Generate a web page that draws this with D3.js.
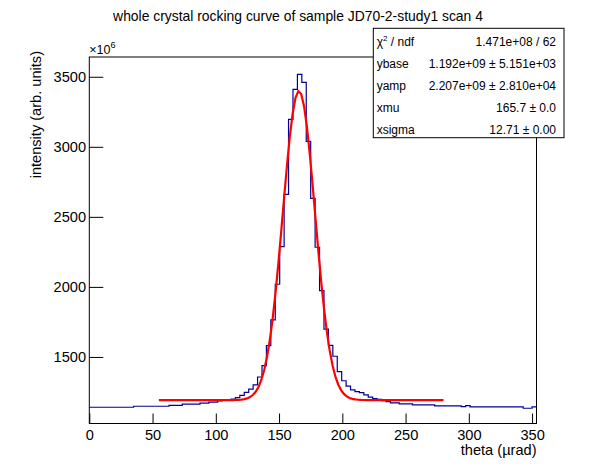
<!DOCTYPE html>
<html>
<head>
<meta charset="UTF-8">
<title>whole crystal rocking curve</title>
<script src="https://d3js.org/d3.v7.min.js"></script>
<style>
    body { margin: 0; background: #ffffff; }
    svg { display: block; font-family: 'Liberation Sans', Arial, Helvetica, sans-serif; }
    .tick text { font-size: 14.6px; fill: #000; }
    .tick line { stroke: #000; }
</style>
</head>
<body>
<svg id="chart" width="596" height="472"></svg>
<script>
    // --- data (intensity in units of 1e6) ---
    const binWidth = 3.5;
    const xRange = [0, 353.5];
    const yRange = [1025, 3641];
    const counts = [
        1141, 1141, 1141, 1141, 1141, 1141, 1141, 1141, 1141, 1141,
        1148, 1148, 1148, 1148, 1148, 1148, 1148, 1148,
        1155, 1155, 1155,
        1163, 1163, 1163, 1163,
        1170, 1170, 1177, 1177, 1186,
        1190, 1194, 1200, 1210, 1226, 1247, 1270, 1300, 1357, 1438,
        1581, 1764, 2019, 2287, 2661, 3196, 3410, 3517, 3460, 3039,
        2632, 2283, 1973, 1698, 1583, 1505, 1395, 1330, 1292, 1265,
        1252, 1245, 1229, 1213, 1203, 1198, 1188, 1181, 1172, 1172,
        1165, 1165, 1165,
        1158, 1158, 1158, 1158, 1158,
        1151, 1151, 1151, 1151, 1151, 1151,
        1146, 1153,
        1143, 1143, 1143, 1143, 1143, 1143, 1143, 1143, 1143, 1143, 1143, 1143,
        1134, 1134, 1143
    ];

    // fit: ybase + yamp * exp(-(x-xmu)^2 / (2 xsigma^2))
    const fitPars = [1192, 2207, 165.7, 12.71];
    const fitRange = [55, 280];
    const fitNpx = 100;

    const xTicks = [0, 50, 100, 150, 200, 250, 300, 350];
    const yTicks = [1500, 2000, 2500, 3000, 3500];
    const xMinor = d3.range(0, 351, 10);
    const yMinor = d3.range(1100, 3601, 100);

    const statNames = ["χ2 / ndf", "ybase", "yamp", "xmu", "xsigma"];
    const statValues = ["1.471e+08 / 62", "1.192e+09 ± 5.151e+03", "2.207e+09 ± 2.810e+04", "165.7 ± 0.0", "12.71 ± 0.00"];

    const titleText = "whole crystal rocking curve of sample JD70-2-study1 scan 4";
    const xTitle = "theta (µrad)";
    const yTitle = "intensity (arb. units)";

    // --- layout ---
    const frame = {left: 89.3, right: 536.5, top: 57, bottom: 423.5};
    const svg = d3.select("#chart");
    svg.append("rect").attr("width", 596).attr("height", 472).attr("fill", "#fff");

    const x = d3.scaleLinear().domain(xRange).range([frame.left, frame.right]);
    const y = d3.scaleLinear().domain(yRange).range([frame.bottom, frame.top]);

    // histogram outline
    const pts = counts.map((c, i) => [i * binWidth, c]);
    pts.push([xRange[1], counts[counts.length - 1]]);
    const histLine = d3.line().x(d => x(d[0])).y(d => y(d[1])).curve(d3.curveStepAfter);
    svg.append("path").datum(pts)
        .attr("fill", "none").attr("stroke", "#000099").attr("stroke-width", 1.2)
        .attr("d", histLine);

    // fit curve
    const fitFn = t => fitPars[0] + fitPars[1] * Math.exp(-Math.pow(t - fitPars[2], 2) / (2 * fitPars[3] * fitPars[3]));
    const fitPts = d3.range(fitNpx + 1).map(i => {
        const t = fitRange[0] + (fitRange[1] - fitRange[0]) * i / fitNpx;
        return [t, fitFn(t)];
    });
    svg.append("path").datum(fitPts)
        .attr("fill", "none").attr("stroke", "#ff0000").attr("stroke-width", 2.2)
        .attr("d", d3.line().x(d => x(d[0])).y(d => y(d[1])));

    // axes
    const gx = svg.append("g").attr("transform", `translate(0,${frame.bottom})`);
    gx.call(d3.axisBottom(x).tickValues(xMinor).tickSize(-5).tickSizeOuter(0).tickFormat(""));
    gx.call(d3.axisBottom(x).tickValues(xTicks).tickSize(-10).tickSizeOuter(0).tickPadding(6).tickFormat(d3.format("d")));
    const gy = svg.append("g").attr("transform", `translate(${frame.left},0)`);
    gy.call(d3.axisLeft(y).tickValues(yMinor).tickSize(-7).tickSizeOuter(0).tickFormat(""));
    gy.call(d3.axisLeft(y).tickValues(yTicks).tickSize(-14).tickSizeOuter(0).tickPadding(3.3).tickFormat(d3.format("d")));
    svg.selectAll(".domain").remove();

    // frame
    svg.append("rect")
        .attr("x", frame.left).attr("y", frame.top)
        .attr("width", frame.right - frame.left).attr("height", frame.bottom - frame.top)
        .attr("fill", "none").attr("stroke", "#000").attr("stroke-width", 1);

    // exponent label
    const expo = svg.append("text").attr("x", frame.left).attr("y", 53.5).attr("font-size", 12.5).text("×10");
    expo.append("tspan").attr("font-size", 9).attr("dy", -6).text("6");

    // titles
    svg.append("text").attr("x", 298).attr("y", 21).attr("text-anchor", "middle")
        .attr("font-size", 13.9).text(titleText);
    svg.append("text").attr("x", frame.right).attr("y", 454.5).attr("text-anchor", "end")
        .attr("font-size", 14.6).text(xTitle);
    svg.append("text").attr("transform", "translate(41,51) rotate(-90)").attr("text-anchor", "end")
        .attr("font-size", 14.6).text(yTitle);

    // stats box
    const box = {x: 373.3, y: 28.3, w: 190.7, h: 109.4};
    svg.append("rect").attr("x", box.x).attr("y", box.y).attr("width", box.w).attr("height", box.h)
        .attr("fill", "#fff").attr("stroke", "#000").attr("stroke-width", 1);
    const rowH = box.h / statNames.length;
    statNames.forEach((name, i) => {
        const by = box.y + (i + 0.5) * rowH + 7;
        const t = svg.append("text").attr("x", 376.7).attr("y", by).attr("font-size", 12);
        if (i === 0) {
            t.text("χ");
            t.append("tspan").attr("font-size", 8).attr("dy", -5).text("2");
            t.append("tspan").attr("dy", 5).text(" / ndf");
        } else {
            t.text(name);
        }
        svg.append("text").attr("x", 556).attr("y", by).attr("text-anchor", "end")
            .attr("font-size", 12).text(statValues[i]);
    });
</script>
</body>
</html>
